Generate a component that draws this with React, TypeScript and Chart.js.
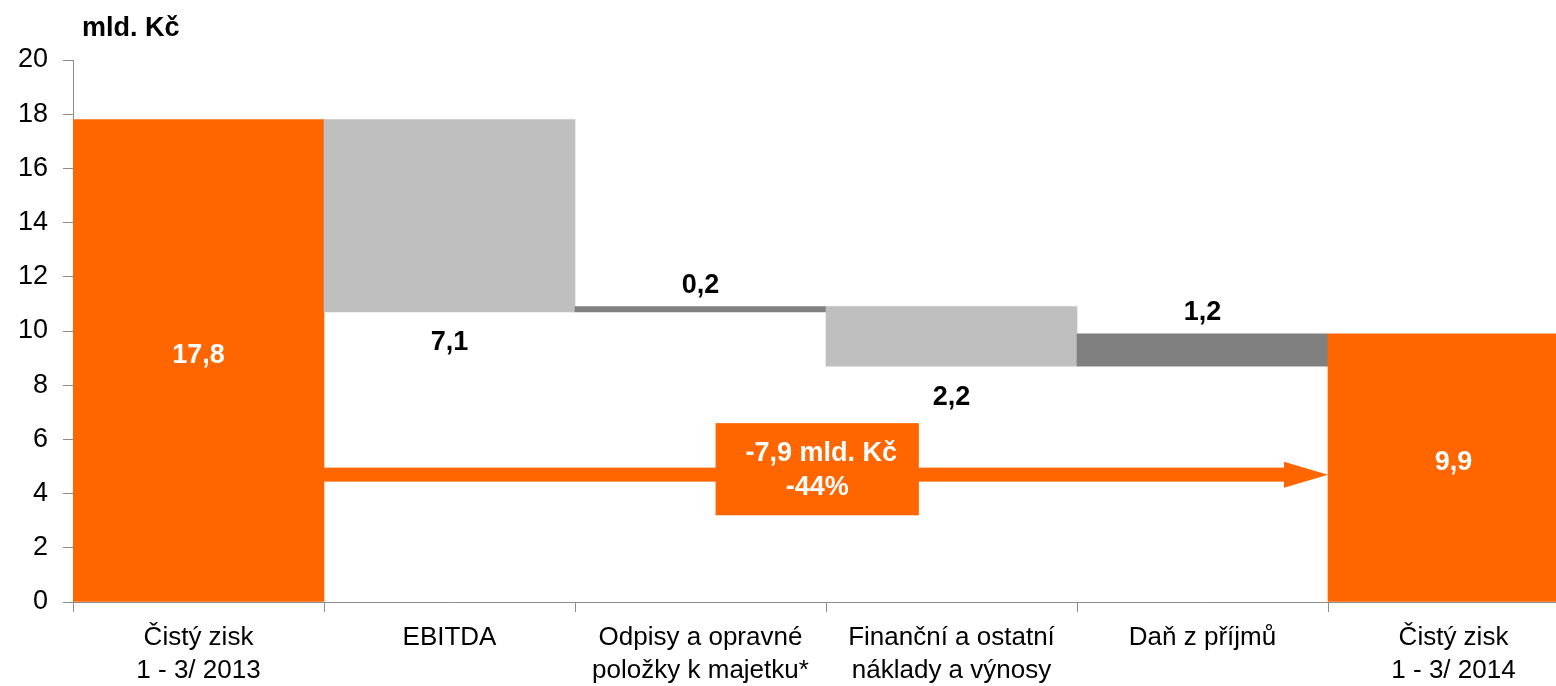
import React, { useEffect, useRef } from "react";
import { Chart, registerables } from "chart.js";

Chart.register(...registerables);

const categories: string[][] = [
  ["Čistý zisk", "1 - 3/ 2013"],
  ["EBITDA"],
  ["Odpisy a opravné", "položky k majetku*"],
  ["Finanční a ostatní", "náklady a výnosy"],
  ["Daň z příjmů"],
  ["Čistý zisk", "1 - 3/ 2014"],
];
const changes: number[] = [17.8, -7.1, 0.2, -2.2, 1.2, 9.9];
const isTotal: boolean[] = [true, false, false, false, false, true];
const yTicks: number[] = [0, 2, 4, 6, 8, 10, 12, 14, 16, 18, 20];
const unitLabel = "mld. Kč";
const summaryLines: string[] = ["-7,9 mld. Kč", "-44%"];
const arrowValue = 4.7;
const boxRange: number[] = [3.2, 6.6];
const boxIndexRange: number[] = [2.06, 2.87];

const ORANGE = "#FF6600";
const LIGHT = "#BFBFBF";
const DARK = "#808080";
const AXIS = "#8c8c8c";
const FONT = "'Liberation Sans', Arial, sans-serif";

function buildRanges(): [number, number][] {
  const out: [number, number][] = [];
  let run = 0;
  changes.forEach((c, i) => {
    if (isTotal[i]) {
      out.push([0, c]);
      run = c;
    } else {
      const next = run + c;
      out.push([Math.min(run, next), Math.max(run, next)]);
      run = next;
    }
  });
  return out;
}

const fmt = (v: number) => Math.abs(v).toFixed(1).replace(".", ",");

export default function App() {
  const ref = useRef<HTMLCanvasElement | null>(null);
  useEffect(() => {
    if (!ref.current) return;
    const ranges = buildRanges();
    const colors = changes.map((c, i) => (isTotal[i] ? ORANGE : c < 0 ? LIGHT : DARK));

    const overlay = {
      id: "overlay",
      afterDatasetsDraw(chart: any) {
        const ctx = chart.ctx;
        const xs = chart.scales.x;
        const ys = chart.scales.y;
        const meta = chart.getDatasetMeta(0);
        ctx.save();
        // arrow
        const first = meta.data[0];
        const last = meta.data[meta.data.length - 1];
        const x1 = first.x + first.width / 2;
        const x2 = last.x - last.width / 2;
        const ay = ys.getPixelForValue(arrowValue);
        const head = 44;
        ctx.fillStyle = ORANGE;
        ctx.fillRect(x1, ay - 7, x2 - head - x1, 14);
        ctx.beginPath();
        ctx.moveTo(x2 - head, ay - 13);
        ctx.lineTo(x2, ay);
        ctx.lineTo(x2 - head, ay + 13);
        ctx.closePath();
        ctx.fill();
        // box
        const bx1 = xs.getPixelForValue(boxIndexRange[0]);
        const bx2 = xs.getPixelForValue(boxIndexRange[1]);
        const by1 = ys.getPixelForValue(boxRange[1]);
        const by2 = ys.getPixelForValue(boxRange[0]);
        ctx.fillRect(bx1, by1, bx2 - bx1, by2 - by1);
        ctx.fillStyle = "#ffffff";
        ctx.font = `bold 27px ${FONT}`;
        ctx.textAlign = "center";
        ctx.textBaseline = "middle";
        const cx = (bx1 + bx2) / 2 + 4;
        const cy = (by1 + by2) / 2;
        ctx.fillText(summaryLines[0], cx, cy - 16);
        ctx.fillText(summaryLines[1], cx - 4, cy + 18);
        // data labels
        meta.data.forEach((bar: any, i: number) => {
          const top = Math.min(bar.y, bar.base);
          const bottom = Math.max(bar.y, bar.base);
          let y: number;
          if (isTotal[i]) {
            ctx.fillStyle = "#ffffff";
            y = (top + bottom) / 2 - 5;
          } else if (changes[i] < 0) {
            ctx.fillStyle = "#000000";
            y = bottom + 31;
          } else {
            ctx.fillStyle = "#000000";
            y = top - 21;
          }
          ctx.fillText(fmt(changes[i]), bar.x, y);
        });
        // unit title
        ctx.fillStyle = "#000000";
        ctx.textAlign = "left";
        ctx.textBaseline = "alphabetic";
        ctx.font = `bold 27px ${FONT}`;
        ctx.fillText(unitLabel, chart.chartArea.left + 9, chart.chartArea.top - 24);
        ctx.restore();
      },
    };

    const chart = new Chart(ref.current, {
      type: "bar",
      data: {
        labels: categories,
        datasets: [
          {
            data: ranges as any,
            backgroundColor: colors,
            borderWidth: 0,
            barPercentage: 1,
            categoryPercentage: 1,
          },
        ],
      },
      options: {
        animation: false,
        responsive: false,
        layout: { padding: { top: 60, left: 0, right: 0, bottom: 0 } },
        plugins: { legend: { display: false }, tooltip: { enabled: false } },
        scales: {
          x: {
            afterFit: (s: any) => {
              s.height = 84;
            },
            border: { display: true, color: AXIS, width: 1 },
            grid: { display: true, drawOnChartArea: false, drawTicks: true, tickLength: 10, color: AXIS },
            ticks: {
              color: "#000",
              font: { family: FONT, size: 26, lineHeight: 1.27 },
              padding: 9,
              maxRotation: 0,
              autoSkip: false,
            },
          },
          y: {
            min: 0,
            max: 20,
            afterFit: (s: any) => {
              s.width = 73;
            },
            afterBuildTicks: (s: any) => {
              s.ticks = yTicks.map((v) => ({ value: v }));
            },
            border: { display: true, color: AXIS, width: 1 },
            grid: { display: true, drawOnChartArea: false, drawTicks: true, tickLength: 10, color: AXIS },
            ticks: {
              color: "#000",
              font: { family: FONT, size: 27 },
              padding: 15,
            },
          },
        },
      },
      plugins: [overlay],
    });
    return () => chart.destroy();
  }, []);

  return (
    <div style={{ position: "fixed", left: 0, top: 0, width: 1556, height: 686, overflow: "hidden", background: "#fff" }}>
      <canvas ref={ref} width={1579} height={686} style={{ display: "block", width: 1579, height: 686 }} />
    </div>
  );
}
